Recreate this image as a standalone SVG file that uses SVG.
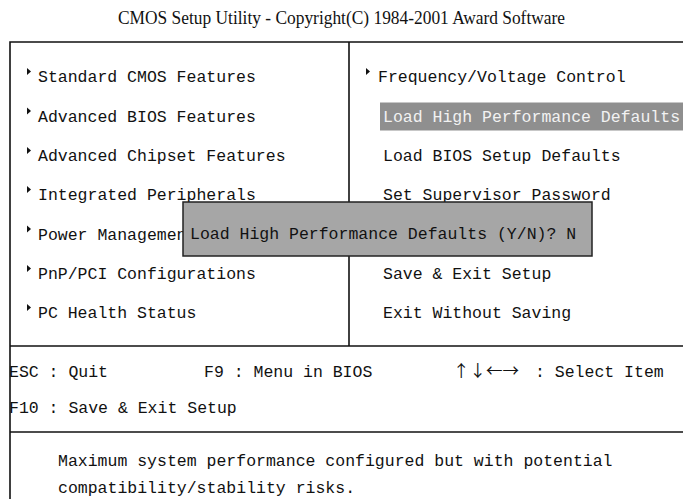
<svg xmlns="http://www.w3.org/2000/svg" width="683" height="499" viewBox="0 0 683 499">
<style>
.t{font-family:"Liberation Mono","Courier New",monospace;font-size:16.5px;fill:#111}
.title{font-family:"Liberation Serif","Times New Roman",serif;font-size:18px;fill:#111}
.ln{stroke:#111;stroke-width:1.6;fill:none}
.bul{fill:#111}
</style>
<defs>
<polygon id="tri" points="0,0 4,3.5 0,7"/>
</defs>
<rect width="683" height="499" fill="#fff"/>
<text class="title" x="118" y="24" textLength="447" lengthAdjust="spacingAndGlyphs">CMOS Setup Utility - Copyright(C) 1984-2001 Award Software</text>
<g id="frame">
<path class="ln" d="M10,499 V42 H683"/>
<path class="ln" d="M349,42 V346"/>
<path class="ln" d="M10,346 H683"/>
<path class="ln" d="M10,432 H683"/>
</g>
<g id="left-menu">
<g id="item-standard"><use href="#tri" class="bul" x="27" y="68"/><text class="t" x="38" y="82">Standard CMOS Features</text></g>
<g id="item-bios"><use href="#tri" class="bul" x="27" y="107.5"/><text class="t" x="38" y="121.5">Advanced BIOS Features</text></g>
<g id="item-chipset"><use href="#tri" class="bul" x="27" y="147"/><text class="t" x="38" y="161">Advanced Chipset Features</text></g>
<g id="item-integrated"><use href="#tri" class="bul" x="27" y="186"/><text class="t" x="38" y="200">Integrated Peripherals</text></g>
<g id="item-power"><use href="#tri" class="bul" x="27" y="225.5"/><text class="t" x="38" y="239.5">Power Management</text></g>
<g id="item-pnp"><use href="#tri" class="bul" x="27" y="265"/><text class="t" x="38" y="279">PnP/PCI Configurations</text></g>
<g id="item-health"><use href="#tri" class="bul" x="27" y="304"/><text class="t" x="38" y="318">PC Health Status</text></g>
</g>
<g id="right-menu">
<g id="item-freq"><use href="#tri" class="bul" x="366" y="68"/><text class="t" x="378" y="82">Frequency/Voltage Control</text></g>
<g id="item-loadhigh"><rect x="380" y="102.5" width="303" height="28" fill="#8f8f8f"/><text class="t" x="383" y="121.5" style="fill:#f2f2f2">Load High Performance Defaults</text></g>
<g id="item-loadbios"><text class="t" x="383" y="161">Load BIOS Setup Defaults</text></g>
<g id="item-super"><text class="t" x="383" y="200">Set Supervisor Password</text></g>
<g id="item-save"><text class="t" x="383" y="279">Save &amp; Exit Setup</text></g>
<g id="item-exit"><text class="t" x="383" y="318">Exit Without Saving</text></g>
</g>
<g id="dialog">
<rect x="183" y="202" width="409" height="54" fill="#a6a6a6" stroke="#222" stroke-width="1.5"/>
<text class="t" x="190" y="238.5">Load High Performance Defaults (Y/N)? N</text>
</g>
<g id="keys">
<text class="t" x="9" y="377">ESC : Quit</text>
<text class="t" x="204" y="377">F9 : Menu in BIOS</text>
<text class="t" x="453" y="377" style="font-family:'Noto Sans CJK SC','Liberation Mono',monospace">↑↓←→</text>
<text class="t" x="535" y="377">: Select Item</text>
<text class="t" x="9" y="413">F10 : Save &amp; Exit Setup</text>
</g>
<g id="help">
<text class="t" x="58" y="466">Maximum system performance configured but with potential</text>
<text class="t" x="58" y="493">compatibility/stability risks.</text>
</g>
</svg>
